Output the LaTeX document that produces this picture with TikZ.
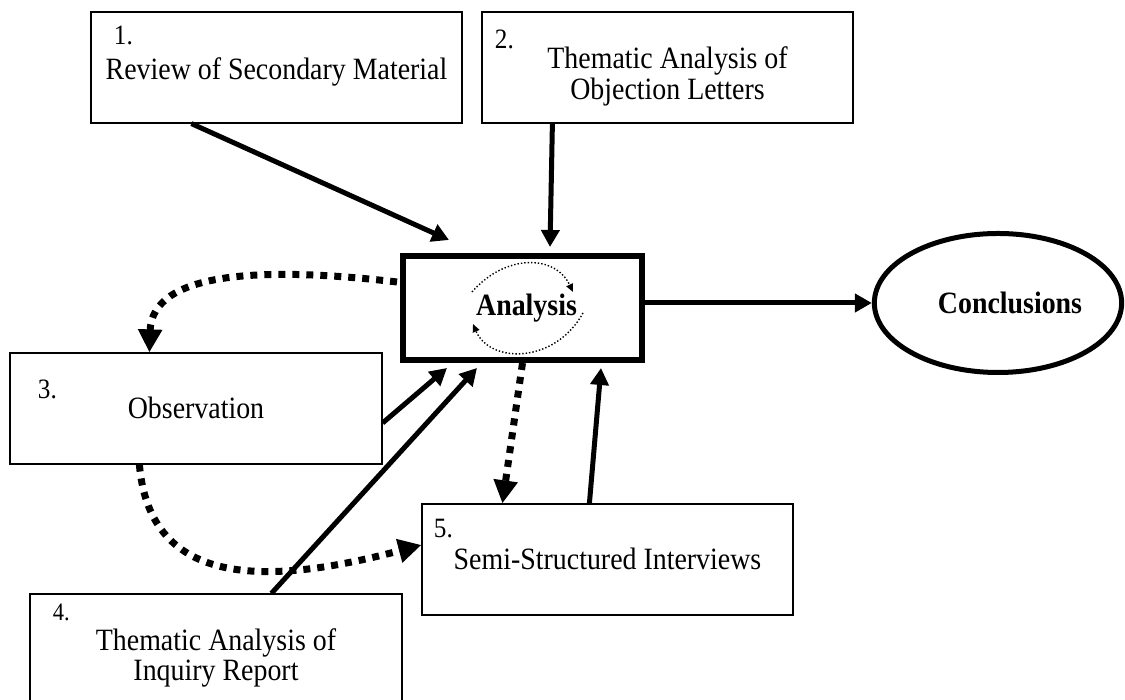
\documentclass[tikz,border=0pt]{standalone}
\usepackage{fontspec}
\setmainfont{Liberation Serif}[FakeStretch=0.9]
\usepackage{tikz}
\usetikzlibrary{arrows.meta,shapes.geometric}
\newcommand{\boxtext}[2]{\raisebox{0pt}[\dimexpr\height+#1\relax][\depth]{\begin{tabular}{@{}c@{}}#2\end{tabular}}}

\begin{document}
\begin{tikzpicture}[x=1pt,y=1pt,line width=1.2pt,
    box/.style={draw,rectangle,align=center,inner sep=0pt,minimum width=371pt,minimum height=111pt,font=\fontsize{31}{30}\selectfont},
    num/.style={inner sep=0pt,font=\fontsize{28}{28}\selectfont},
    solidarrow/.style={line width=5pt,-{Triangle[length=17pt,width=18pt]}},
    dotarrow/.style={line width=7pt,dash pattern=on 7pt off 7pt,-{Triangle[length=23pt,width=23pt]}},
    innerarrow/.style={line width=1.4pt,dotted,-{Triangle[length=8pt,width=7pt]}}]
      \clip (0,0) rectangle (1125,700);

      \node [box] (1) at (276.5,632.5) {\boxtext{12pt}{Review of Secondary Material}};
      \node [box] (2) at (667.5,632.5) {\boxtext{20pt}{Thematic Analysis of\\Objection Letters}};
      \node [box,minimum width=372pt] (3) at (196,291.5) {\boxtext{8pt}{Observation}};
      \node [box,minimum width=372pt,minimum height=116pt] (4) at (216,48) {\boxtext{14pt}{Thematic Analysis of\\Inquiry Report}};
      \node [box] (5) at (607.5,140.5) {\boxtext{8pt}{Semi-Structured Interviews}};

      \node [num] (n1) at ([xshift=33pt,yshift=-24pt]1.north west) {1.};
      \node [num] (n2) at ([xshift=23pt,yshift=-28pt]2.north west) {2.};
      \node [num] (n3) at ([xshift=38pt,yshift=-37pt]3.north west) {3.};
      \node [num,font=\fontsize{25}{25}\selectfont] (n4) at ([xshift=32pt,yshift=-19pt]4.north west) {4.};
      \node [num] (n5) at ([xshift=22pt,yshift=-25pt]5.north west) {5.};

      \node [draw,rectangle,line width=6pt,minimum width=239pt,minimum height=104pt,font=\fontsize{31}{30}\selectfont\bfseries] (a) at (522.5,392) {\hspace*{8pt}Analysis};
      \node [draw,ellipse,line width=5pt,minimum width=245pt,minimum height=139pt,font=\fontsize{31}{30}\selectfont\bfseries] (c) at (998,397) {\hspace*{24pt}Conclusions};

      \draw [innerarrow,shift={(a.center)}] (-50.5,16) .. controls (-17.5,54) and (32.5,54) .. (50.5,16);
      \draw [innerarrow,shift={(a.center)}] (60.5,-5) .. controls (32.5,-56) and (-32.5,-56) .. (-49.5,-16);

      \draw [solidarrow] ([xshift=101pt]1.south west) -- ([xshift=49pt,yshift=13pt]a.north west);
      \draw [solidarrow] ([xshift=71pt]2.south west) -- ([xshift=150pt,yshift=6pt]a.north west);
      \draw [solidarrow] (a.east |- c.west) -- (c.west);
      \draw [solidarrow] ([yshift=-14.5pt]3.east) -- ([xshift=47pt,yshift=-5pt]a.south west);
      \draw [solidarrow] ([xshift=242pt]4.north west) -- ([xshift=77pt,yshift=-5pt]a.south west);
      \draw [solidarrow] ([xshift=168pt]5.north west) -- ([xshift=201pt,yshift=-5pt]a.south west);

      \draw [dotarrow] (a.south) -- ([xshift=81pt]5.north west);
      \draw [dotarrow] ([xshift=-3pt,yshift=26pt]a.west) .. controls (260,434) and (152,428) .. ([xshift=140pt]3.north west);
      \draw [dotarrow] ([xshift=130pt]3.south west) .. controls (150,110) and (270,115) .. ([yshift=14.5pt]5.west);
    \end{tikzpicture}
\end{document}
